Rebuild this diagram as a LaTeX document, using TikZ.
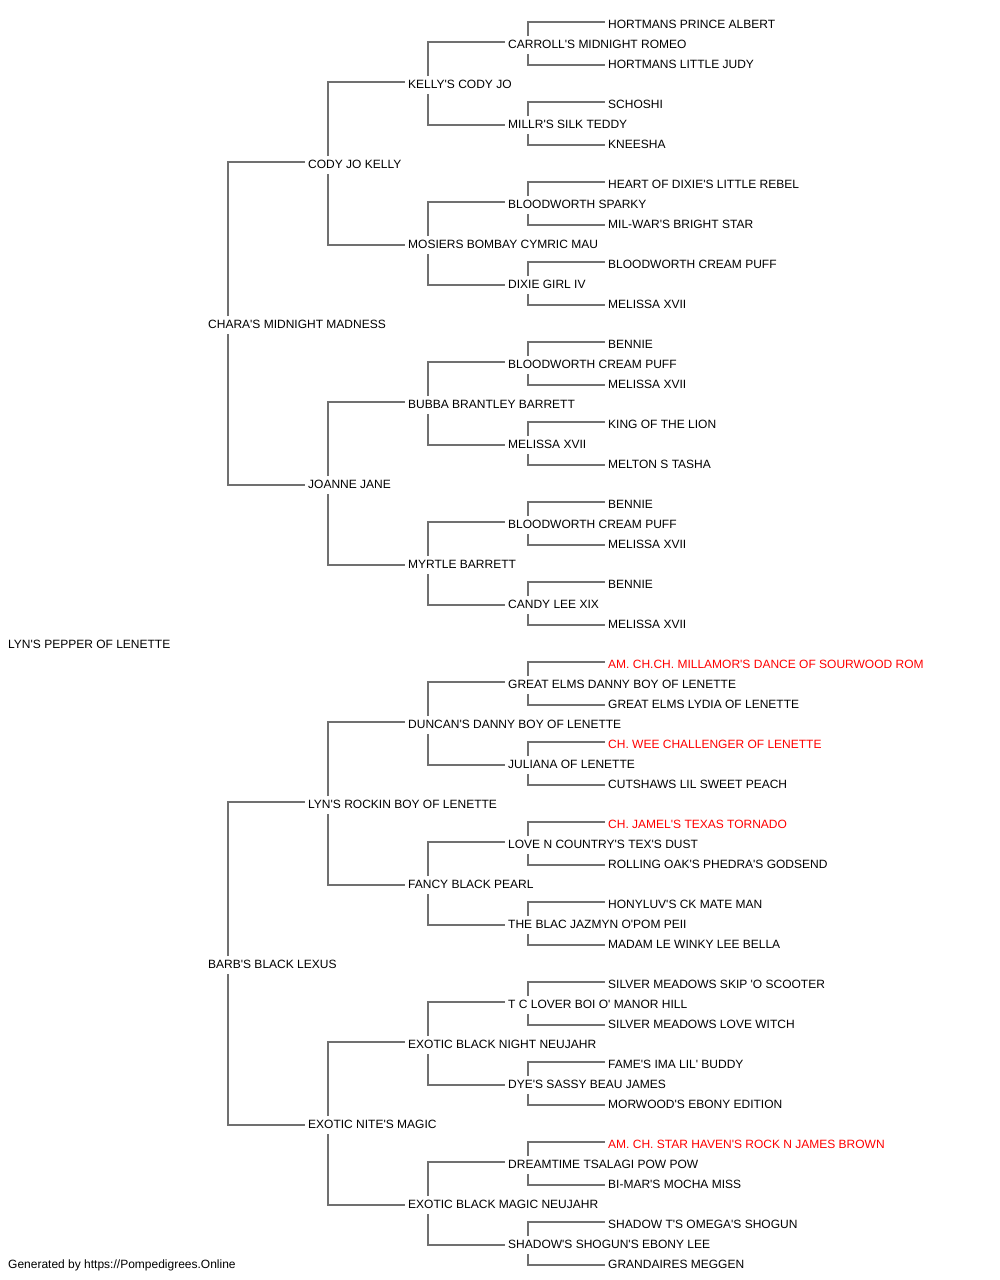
\documentclass[tikz,border=0pt]{standalone}
\usepackage{fontspec}
\setmainfont{Liberation Sans}[Ligatures=TeXOff]
\definecolor{linegray}{HTML}{707070}
\definecolor{chred}{HTML}{FF0000}
\tikzset{
  pn/.style={anchor=west, inner sep=0pt, text height=8.6pt, text depth=0pt, font=\fontsize{12}{14}\selectfont},
  champ/.style={pn, text=chred},
  link/.style={draw=linegray, line width=1.5pt}
}
\newcommand\pedlink[3]{%
  \draw[link] ([shift={(20,8)}]#1.west) |- ([shift={(-3,2)}]#2.west);
  \draw[link] ([shift={(20,-10)}]#1.west) |- ([shift={(-3,-1)}]#3.west);
}
\begin{document}
\begin{tikzpicture}[x=1pt,y=1pt]
\useasboundingbox (0,0) rectangle (1000,-1280);
% generation 0
\node[pn] (n0) at (8,-644) {LYN'S PEPPER OF LENETTE};
% generation 1
\node[pn] (a1) at (208,-324) {CHARA'S MIDNIGHT MADNESS};
\node[pn] (a2) at (208,-964) {BARB'S BLACK LEXUS};
% generation 2
\node[pn] (b1) at (308,-164) {CODY JO KELLY};
\node[pn] (b2) at (308,-484) {JOANNE JANE};
\node[pn] (b3) at (308,-804) {LYN'S ROCKIN BOY OF LENETTE};
\node[pn] (b4) at (308,-1124) {EXOTIC NITE'S MAGIC};
% generation 3
\node[pn] (c1) at (408,-84) {KELLY'S CODY JO};
\node[pn] (c2) at (408,-244) {MOSIERS BOMBAY CYMRIC MAU};
\node[pn] (c3) at (408,-404) {BUBBA BRANTLEY BARRETT};
\node[pn] (c4) at (408,-564) {MYRTLE BARRETT};
\node[pn] (c5) at (408,-724) {DUNCAN'S DANNY BOY OF LENETTE};
\node[pn] (c6) at (408,-884) {FANCY BLACK PEARL};
\node[pn] (c7) at (408,-1044) {EXOTIC BLACK NIGHT NEUJAHR};
\node[pn] (c8) at (408,-1204) {EXOTIC BLACK MAGIC NEUJAHR};
% generation 4
\node[pn] (d1) at (508,-44) {CARROLL'S MIDNIGHT ROMEO};
\node[pn] (d2) at (508,-124) {MILLR'S SILK TEDDY};
\node[pn] (d3) at (508,-204) {BLOODWORTH SPARKY};
\node[pn] (d4) at (508,-284) {DIXIE GIRL IV};
\node[pn] (d5) at (508,-364) {BLOODWORTH CREAM PUFF};
\node[pn] (d6) at (508,-444) {MELISSA XVII};
\node[pn] (d7) at (508,-524) {BLOODWORTH CREAM PUFF};
\node[pn] (d8) at (508,-604) {CANDY LEE XIX};
\node[pn] (d9) at (508,-684) {GREAT ELMS DANNY BOY OF LENETTE};
\node[pn] (d10) at (508,-764) {JULIANA OF LENETTE};
\node[pn] (d11) at (508,-844) {LOVE N COUNTRY'S TEX'S DUST};
\node[pn] (d12) at (508,-924) {THE BLAC JAZMYN O'POM PEII};
\node[pn] (d13) at (508,-1004) {T C LOVER BOI O' MANOR HILL};
\node[pn] (d14) at (508,-1084) {DYE'S SASSY BEAU JAMES};
\node[pn] (d15) at (508,-1164) {DREAMTIME TSALAGI POW POW};
\node[pn] (d16) at (508,-1244) {SHADOW'S SHOGUN'S EBONY LEE};
% generation 5
\node[pn] (e1) at (608,-24) {HORTMANS PRINCE ALBERT};
\node[pn] (e2) at (608,-64) {HORTMANS LITTLE JUDY};
\node[pn] (e3) at (608,-104) {SCHOSHI};
\node[pn] (e4) at (608,-144) {KNEESHA};
\node[pn] (e5) at (608,-184) {HEART OF DIXIE'S LITTLE REBEL};
\node[pn] (e6) at (608,-224) {MIL-WAR'S BRIGHT STAR};
\node[pn] (e7) at (608,-264) {BLOODWORTH CREAM PUFF};
\node[pn] (e8) at (608,-304) {MELISSA XVII};
\node[pn] (e9) at (608,-344) {BENNIE};
\node[pn] (e10) at (608,-384) {MELISSA XVII};
\node[pn] (e11) at (608,-424) {KING OF THE LION};
\node[pn] (e12) at (608,-464) {MELTON S TASHA};
\node[pn] (e13) at (608,-504) {BENNIE};
\node[pn] (e14) at (608,-544) {MELISSA XVII};
\node[pn] (e15) at (608,-584) {BENNIE};
\node[pn] (e16) at (608,-624) {MELISSA XVII};
\node[champ] (e17) at (608,-664) {AM. CH.CH. MILLAMOR'S DANCE OF SOURWOOD ROM};
\node[pn] (e18) at (608,-704) {GREAT ELMS LYDIA OF LENETTE};
\node[champ] (e19) at (608,-744) {CH. WEE CHALLENGER OF LENETTE};
\node[pn] (e20) at (608,-784) {CUTSHAWS LIL SWEET PEACH};
\node[champ] (e21) at (608,-824) {CH. JAMEL'S TEXAS TORNADO};
\node[pn] (e22) at (608,-864) {ROLLING OAK'S PHEDRA'S GODSEND};
\node[pn] (e23) at (608,-904) {HONYLUV'S CK MATE MAN};
\node[pn] (e24) at (608,-944) {MADAM LE WINKY LEE BELLA};
\node[pn] (e25) at (608,-984) {SILVER MEADOWS SKIP 'O SCOOTER};
\node[pn] (e26) at (608,-1024) {SILVER MEADOWS LOVE WITCH};
\node[pn] (e27) at (608,-1064) {FAME'S IMA LIL' BUDDY};
\node[pn] (e28) at (608,-1104) {MORWOOD'S EBONY EDITION};
\node[champ] (e29) at (608,-1144) {AM. CH. STAR HAVEN'S ROCK N JAMES BROWN};
\node[pn] (e30) at (608,-1184) {BI-MAR'S MOCHA MISS};
\node[pn] (e31) at (608,-1224) {SHADOW T'S OMEGA'S SHOGUN};
\node[pn] (e32) at (608,-1264) {GRANDAIRES MEGGEN};
% footer
\node[pn] (foot) at (8,-1264) {Generated by https://Pompedigrees.Online};
% connectors
\foreach \i in {1,2} {
  \pgfmathtruncatemacro\u{2*\i-1}\pgfmathtruncatemacro\l{2*\i}
  \pedlink{a\i}{b\u}{b\l}
}
\foreach \i in {1,...,4} {
  \pgfmathtruncatemacro\u{2*\i-1}\pgfmathtruncatemacro\l{2*\i}
  \pedlink{b\i}{c\u}{c\l}
}
\foreach \i in {1,...,8} {
  \pgfmathtruncatemacro\u{2*\i-1}\pgfmathtruncatemacro\l{2*\i}
  \pedlink{c\i}{d\u}{d\l}
}
\foreach \i in {1,...,16} {
  \pgfmathtruncatemacro\u{2*\i-1}\pgfmathtruncatemacro\l{2*\i}
  \pedlink{d\i}{e\u}{e\l}
}
\end{tikzpicture}
\end{document}
